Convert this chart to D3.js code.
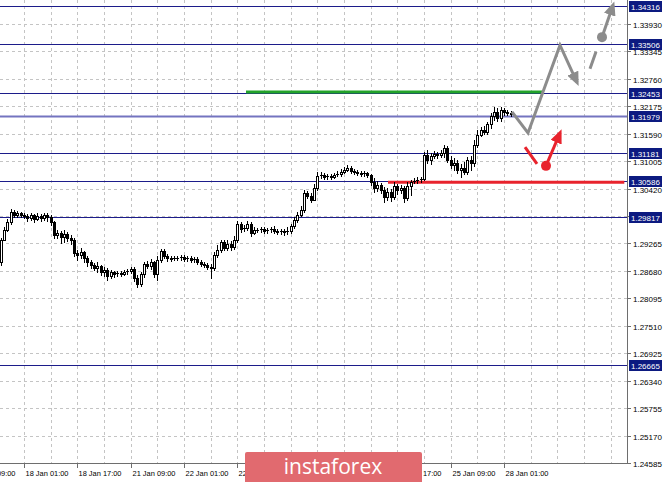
<!DOCTYPE html>
<html><head><meta charset="utf-8">
<script src="https://cdn.jsdelivr.net/npm/d3@7"></script>
<style>html,body{margin:0;padding:0;background:#fff;overflow:hidden}</style>
</head><body><svg id="c" width="665" height="482"></svg>
<script>
// ---- DATA ----
const firstBar = -7; // hourly bars, index 0 = 18 Jan 01:00
const opens = [
1.2886,1.2933,1.2955,1.2972,1.2993,1.2986,1.2991,1.2986,1.2984,1.2980,
1.2986,1.2978,1.2984,1.2980,1.2986,1.2982,1.2972,1.2944,1.2948,1.2940,
1.2946,1.2938,1.2933,1.2906,1.2901,1.2908,1.2895,1.2886,1.2880,1.2874,
1.2878,1.2865,1.2869,1.2857,1.2865,1.2861,1.2863,1.2861,1.2865,1.2867,
1.2872,1.2852,1.2840,1.2861,1.2882,1.2878,1.2886,1.2861,1.2891,1.2910,
1.2899,1.2895,1.2893,1.2895,1.2894,1.2897,1.2893,1.2895,1.2891,1.2893,
1.2886,1.2882,1.2880,1.2876,1.2874,1.2901,1.2912,1.2929,1.2916,1.2925,
1.2918,1.2933,1.2967,1.2957,1.2959,1.2967,1.2948,1.2955,1.2954,1.2957,
1.2952,1.2955,1.2957,1.2952,1.2950,1.2952,1.2950,1.2952,1.2963,1.2976,
1.2986,1.2997,1.3033,1.3027,1.3018,1.3044,1.3069,1.3072,1.3067,1.3069,
1.3067,1.3072,1.3074,1.3078,1.3082,1.3086,1.3080,1.3078,1.3076,1.3074,
1.3076,1.3072,1.3057,1.3044,1.3050,1.3040,1.3025,1.3035,1.3025,1.3048,
1.3040,1.3044,1.3023,1.3048,1.3057,1.3059,1.3061,1.3063,1.3114,1.3104,
1.3112,1.3116,1.3114,1.3118,1.3129,1.3104,1.3093,1.3097,1.3082,1.3086,
1.3078,1.3104,1.3097,1.3135,1.3157,1.3167,1.3163,1.3180,1.3197,1.3206,
1.3193,1.3210,1.3206,1.3204];
const highs = [
1.2938,1.2961,1.2978,1.2999,1.2997,1.2995,1.2993,1.2991,1.2989,1.2991,
1.2989,1.2991,1.2989,1.2991,1.2991,1.2986,1.2974,1.2955,1.2952,1.2955,
1.2950,1.2944,1.2938,1.2912,1.2916,1.2910,1.2899,1.2891,1.2884,1.2886,
1.2880,1.2876,1.2874,1.2869,1.2867,1.2867,1.2867,1.2869,1.2872,1.2876,
1.2876,1.2859,1.2865,1.2886,1.2889,1.2893,1.2889,1.2899,1.2914,1.2914,
1.2903,1.2899,1.2899,1.2899,1.2901,1.2901,1.2899,1.2899,1.2897,1.2897,
1.2891,1.2886,1.2884,1.2882,1.2908,1.2923,1.2933,1.2933,1.2933,1.2931,
1.2942,1.2974,1.2972,1.2965,1.2974,1.2972,1.2961,1.2959,1.2961,1.2961,
1.2959,1.2961,1.2963,1.2957,1.2957,1.2957,1.2961,1.2967,1.2982,1.2993,
1.3006,1.3040,1.3038,1.3033,1.3052,1.3078,1.3078,1.3076,1.3074,1.3074,
1.3076,1.3080,1.3084,1.3089,1.3093,1.3091,1.3084,1.3082,1.3080,1.3080,
1.3078,1.3074,1.3065,1.3059,1.3055,1.3046,1.3044,1.3042,1.3057,1.3052,
1.3050,1.3048,1.3057,1.3061,1.3065,1.3067,1.3067,1.3121,1.3125,1.3118,
1.3123,1.3121,1.3125,1.3135,1.3133,1.3112,1.3108,1.3104,1.3095,1.3099,
1.3110,1.3112,1.3146,1.3167,1.3174,1.3176,1.3184,1.3204,1.3216,1.3214,
1.3216,1.3214,1.3210,1.3208];
const lows = [
1.2880,1.2933,1.2952,1.2967,1.2982,1.2982,1.2982,1.2980,1.2974,1.2976,
1.2972,1.2976,1.2974,1.2976,1.2974,1.2965,1.2938,1.2938,1.2927,1.2929,
1.2931,1.2925,1.2899,1.2891,1.2895,1.2886,1.2878,1.2874,1.2869,1.2865,
1.2859,1.2857,1.2848,1.2852,1.2855,1.2857,1.2857,1.2859,1.2861,1.2863,
1.2846,1.2833,1.2835,1.2855,1.2874,1.2872,1.2855,1.2848,1.2886,1.2895,
1.2889,1.2889,1.2891,1.2891,1.2891,1.2889,1.2889,1.2886,1.2886,1.2882,
1.2878,1.2876,1.2872,1.2852,1.2869,1.2897,1.2908,1.2912,1.2912,1.2912,
1.2914,1.2929,1.2950,1.2952,1.2955,1.2942,1.2946,1.2950,1.2950,1.2948,
1.2948,1.2950,1.2948,1.2946,1.2946,1.2944,1.2946,1.2948,1.2959,1.2972,
1.2984,1.2993,1.3023,1.3014,1.3018,1.3040,1.3065,1.3063,1.3063,1.3063,
1.3065,1.3069,1.3069,1.3076,1.3080,1.3076,1.3074,1.3072,1.3069,1.3069,
1.3067,1.3050,1.3035,1.3038,1.3033,1.3014,1.3018,1.3016,1.3021,1.3031,
1.3033,1.3014,1.3018,1.3029,1.3055,1.3055,1.3057,1.3061,1.3097,1.3095,
1.3108,1.3108,1.3110,1.3110,1.3099,1.3086,1.3082,1.3076,1.3067,1.3074,
1.3074,1.3082,1.3091,1.3131,1.3155,1.3159,1.3159,1.3172,1.3189,1.3187,
1.3187,1.3199,1.3199,1.3197];
const closes = [
1.2933,1.2955,1.2972,1.2993,1.2986,1.2991,1.2986,1.2984,1.2980,1.2986,
1.2978,1.2984,1.2980,1.2986,1.2982,1.2972,1.2944,1.2948,1.2940,1.2946,
1.2938,1.2933,1.2906,1.2901,1.2908,1.2895,1.2886,1.2880,1.2874,1.2878,
1.2865,1.2869,1.2857,1.2865,1.2861,1.2863,1.2861,1.2865,1.2867,1.2872,
1.2852,1.2840,1.2861,1.2882,1.2878,1.2886,1.2861,1.2891,1.2910,1.2899,
1.2895,1.2893,1.2895,1.2894,1.2897,1.2893,1.2895,1.2891,1.2893,1.2886,
1.2882,1.2880,1.2876,1.2874,1.2901,1.2912,1.2929,1.2916,1.2925,1.2918,
1.2933,1.2967,1.2957,1.2959,1.2967,1.2948,1.2955,1.2954,1.2957,1.2952,
1.2955,1.2957,1.2952,1.2950,1.2952,1.2950,1.2952,1.2963,1.2976,1.2986,
1.2997,1.3033,1.3027,1.3018,1.3044,1.3069,1.3072,1.3067,1.3069,1.3067,
1.3072,1.3074,1.3078,1.3082,1.3086,1.3080,1.3078,1.3076,1.3074,1.3076,
1.3072,1.3057,1.3044,1.3050,1.3040,1.3025,1.3035,1.3025,1.3048,1.3040,
1.3044,1.3023,1.3048,1.3057,1.3059,1.3061,1.3063,1.3114,1.3104,1.3112,
1.3116,1.3114,1.3118,1.3129,1.3104,1.3093,1.3097,1.3082,1.3086,1.3078,
1.3104,1.3097,1.3135,1.3157,1.3167,1.3163,1.3180,1.3197,1.3206,1.3193,
1.3210,1.3206,1.3204,1.3201];

const priceTicks = [1.24585,1.25170,1.25755,1.26340,1.26925,1.27510,1.28095,1.28680,
  1.29265,1.29850,1.30420,1.31005,1.31590,1.32175,1.32760,1.33345,1.33930];
const priceTickLabels = ["1.24585","1.25170","1.25755","1.26340","1.26925","1.27510","1.28095","1.28680",
  "1.29265","1.29850","1.30420","1.31005","1.31590","1.32175","1.32760","1.33345","1.33930"];
const levels = [1.34316,1.33506,1.32453,1.31979,1.31181,1.30586,1.29817,1.26665];
const levelLabels = ["1.34316","1.33506","1.32453","1.31979","1.31181","1.30586","1.29817","1.26665"];
const timeTicks = [-16,0,16,32,48,64,80,96,112,128,144];
const timeLabels = ["17 Jan 09:00","18 Jan 01:00","18 Jan 17:00","21 Jan 09:00","22 Jan 01:00",
  "22 Jan 17:00","23 Jan 09:00","24 Jan 01:00","24 Jan 17:00","25 Jan 09:00","28 Jan 01:00"];

// forecast annotations (bar index, price)
const greenZone = [[66.6,1.3248],[155.7,1.3248]];
const redZone = [[109.2,1.3056],[180.1,1.3056]];
const grayPath = [[146.4,1.3206],[151.2,1.3161],[160.8,1.3348],[165.9,1.3269]];
const grayDash = [[169.8,1.3298],[171.6,1.3334]];
const grayTarget = [[173.4,1.3365],[176.7,1.3433]];
const redDash = [[150.3,1.3131],[153.9,1.3095]];
const redTarget = [[156.6,1.3091],[160.8,1.3161]];

// ---- CHART ----
const W = 665, H = 482, plotR = 627, plotB = 463;
const svg = d3.select("#c");
const x = d3.scaleLinear().domain([0,144]).range([24,504]);
const y = d3.scaleLinear().domain([1.24585,1.33930]).range([463,24]);

svg.append("rect").attr("width",W).attr("height",H).attr("fill","#fff");
const defs = svg.append("defs");
defs.append("clipPath").attr("id","plot").append("rect").attr("x",0).attr("y",0).attr("width",plotR).attr("height",plotB);
function marker(id,color){
  defs.append("marker").attr("id",id).attr("markerUnits","userSpaceOnUse")
    .attr("viewBox","0 0 14 12").attr("refX",10).attr("refY",6)
    .attr("markerWidth",14).attr("markerHeight",12).attr("orient","auto")
    .append("path").attr("d","M0,0 L14,6 L0,12 Z").attr("fill",color);
}
marker("ag","#8c8c8c"); marker("ar","#e8232d");

const plot = svg.append("g").attr("clip-path","url(#plot)");
const font = "Liberation Sans, Arial, sans-serif";

// logo box (watermark) extent, used to hide axis labels it covers
const logo = {x0:245, x1:422, y0:452};

// grid
const gridBars = d3.range(-8, 184, 8);
plot.append("g").selectAll("line").data(gridBars).join("line")
  .attr("x1",d=>Math.round(x(d))+0.5).attr("x2",d=>Math.round(x(d))+0.5)
  .attr("y1",0).attr("y2",plotB)
  .attr("stroke","#c4c4c4").attr("stroke-dasharray","3,3").attr("shape-rendering","crispEdges");
plot.append("g").selectAll("line").data(priceTicks).join("line")
  .attr("x1",0).attr("x2",plotR)
  .attr("y1",d=>Math.round(y(d))+0.5).attr("y2",d=>Math.round(y(d))+0.5)
  .attr("stroke","#c4c4c4").attr("stroke-dasharray","3,3").attr("shape-rendering","crispEdges");

// level lines
plot.append("g").selectAll("line").data(levels).join("line")
  .attr("x1",0).attr("x2",plotR)
  .attr("y1",d=>Math.round(y(d))+0.5).attr("y2",d=>Math.round(y(d))+0.5)
  .attr("stroke",(d,i)=> i===3 ? "#7474c0" : "#1c1c8a")
  .attr("stroke-width",(d,i)=> i===3 ? 2 : 1);

// zones
const line = d3.line().x(d=>x(d[0])).y(d=>y(d[1]));
plot.append("path").attr("d",line(greenZone)).attr("stroke","#22a32a").attr("stroke-width",3).attr("fill","none");
plot.append("path").attr("d",line(redZone)).attr("stroke","#e8232d").attr("stroke-width",3).attr("fill","none");

// candles
const bars = d3.range(closes.length).map(i=>({k:firstBar+i,o:opens[i],h:highs[i],l:lows[i],c:closes[i]}));
const cg = plot.append("g").attr("shape-rendering","crispEdges");
bars.forEach(b=>{
  const cx = Math.round(x(b.k));
  const yh = Math.round(y(Math.max(b.h,b.o,b.c))), yl = Math.round(y(Math.min(b.l,b.o,b.c)));
  cg.append("line").attr("x1",cx+0.5).attr("x2",cx+0.5).attr("y1",yh).attr("y2",yl+1).attr("stroke","#000");
  const top = Math.round(y(Math.max(b.o,b.c))), bot = Math.round(y(Math.min(b.o,b.c)));
  if (b.c < b.o) {
    cg.append("rect").attr("x",cx-1).attr("y",top).attr("width",3).attr("height",Math.max(1,bot-top+1)).attr("fill","#000");
  } else if (bot - top >= 2) {
    cg.append("rect").attr("x",cx-0.5).attr("y",top+0.5).attr("width",2).attr("height",bot-top).attr("fill","#fff").attr("stroke","#000");
  } else {
    cg.append("rect").attr("x",cx-1).attr("y",top).attr("width",3).attr("height",1).attr("fill","#000");
  }
});

// forecast paths
plot.append("path").attr("d",line(grayPath)).attr("stroke","#8c8c8c").attr("stroke-width",3)
  .attr("fill","none").attr("stroke-linejoin","miter").attr("marker-end","url(#ag)");
plot.append("path").attr("d",line(grayDash)).attr("stroke","#8c8c8c").attr("stroke-width",3).attr("fill","none");
plot.append("path").attr("d",line(grayTarget)).attr("stroke","#8c8c8c").attr("stroke-width",3).attr("fill","none").attr("marker-end","url(#ag)");
plot.append("circle").attr("cx",x(grayTarget[0][0])).attr("cy",y(grayTarget[0][1])).attr("r",5).attr("fill","#8c8c8c");
plot.append("path").attr("d",line(redDash)).attr("stroke","#e8232d").attr("stroke-width",3).attr("fill","none");
plot.append("path").attr("d",line(redTarget)).attr("stroke","#e8232d").attr("stroke-width",3).attr("fill","none").attr("marker-end","url(#ar)");
plot.append("circle").attr("cx",x(redTarget[0][0])).attr("cy",y(redTarget[0][1])).attr("r",5).attr("fill","#e8232d");

// axes
const axc = "#6e6e6e";
svg.append("line").attr("x1",plotR+0.5).attr("x2",plotR+0.5).attr("y1",0).attr("y2",plotB+1).attr("stroke",axc).attr("shape-rendering","crispEdges");
svg.append("line").attr("x1",0).attr("x2",plotR+1).attr("y1",plotB+0.5).attr("y2",plotB+0.5).attr("stroke",axc).attr("shape-rendering","crispEdges");

// price ticks (labels covered by a level box are not drawn, as in the terminal)
const pt = svg.append("g");
priceTicks.forEach((p,i)=>{
  const yy = Math.round(y(p))+0.5;
  pt.append("line").attr("x1",plotR).attr("x2",plotR+4).attr("y1",yy).attr("y2",yy).attr("stroke",axc).attr("shape-rendering","crispEdges");
  const covered = levels.some(l=>Math.abs(y(l)-y(p))<6);
  if (!covered)
    pt.append("text").attr("x",633).attr("y",yy+3).attr("font-family",font).attr("font-size",8).attr("fill","#000").text(priceTickLabels[i]);
});
// level boxes
levels.forEach((p,i)=>{
  const yy = Math.round(y(p));
  pt.append("rect").attr("x",629).attr("y",yy-5).attr("width",33).attr("height",11).attr("fill","#0c1a80");
  pt.append("text").attr("x",631).attr("y",yy+3.5).attr("font-family",font).attr("font-size",8).attr("fill","#fff").text(levelLabels[i]);
});

// time ticks
const tt = svg.append("g");
timeTicks.forEach((k,i)=>{
  const xx = Math.round(x(k))+0.5;
  tt.append("line").attr("x1",xx).attr("x2",xx).attr("y1",plotB).attr("y2",plotB+5).attr("stroke",axc).attr("shape-rendering","crispEdges");
  const hidden = xx+1 >= logo.x0 && xx+44 <= logo.x1;
  if (!hidden)
    tt.append("text").attr("x",xx+1).attr("y",476).attr("font-family",font).attr("font-size",7.5)
      .attr("textLength",43).attr("lengthAdjust","spacingAndGlyphs").attr("fill","#000").text(timeLabels[i]);
});

// watermark
svg.append("rect").attr("x",logo.x0).attr("y",logo.y0).attr("width",logo.x1-logo.x0).attr("height",34).attr("rx",2).attr("fill","#e16a6f");
svg.append("text").attr("x",333).attr("y",474).attr("text-anchor","middle").attr("font-family","Open Sans, sans-serif")
  .attr("font-size",21).attr("fill","#fff").text("instaforex");
</script></body></html>
